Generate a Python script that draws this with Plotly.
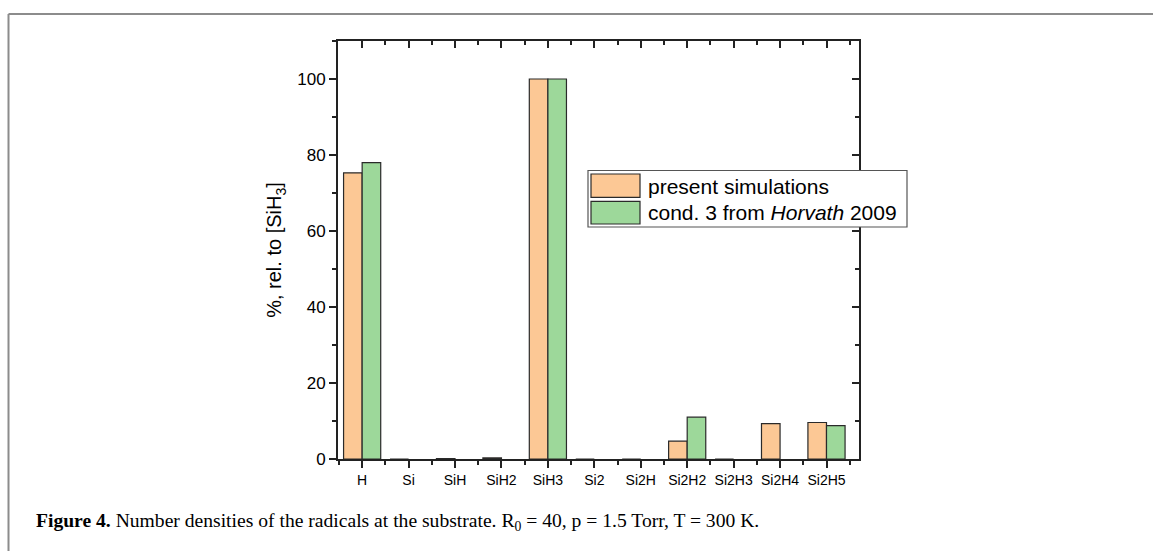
import plotly.graph_objects as go

categories = ["H", "Si", "SiH", "SiH2", "SiH3", "Si2", "Si2H", "Si2H2", "Si2H3", "Si2H4", "Si2H5"]
present_sim = [75.3, 0.0, 0.1, 0.3, 100.0, 0.0, 0.0, 4.7, 0.0, 9.3, 9.6]
horvath_2009 = [78.0, None, None, None, 100.0, None, None, 11.0, None, None, 8.8]
series_names = ["present simulations", "cond. 3 from <i>Horvath</i> 2009"]
y_major = [0, 20, 40, 60, 80, 100]
y_minor = [10, 30, 50, 70, 90, 110]

W, H = 1153, 551
L, R, T, B = 338, 859, 41, 459


def px(x):
    return (x - L) / (R - L)


def py(y):
    return (B - y) / (B - T)


ORANGE = "#FCC895"
GREEN = "#9DD89A"
EDGE = "#2a2a2a"
AX = "#222222"

xpos = list(range(len(categories)))

fig = go.Figure()
fig.add_trace(go.Bar(x=xpos, y=present_sim, name=series_names[0],
                     marker=dict(color=ORANGE, line=dict(color=EDGE, width=1.2)),
                     showlegend=False))
fig.add_trace(go.Bar(x=xpos, y=horvath_2009, name=series_names[1],
                     marker=dict(color=GREEN, line=dict(color=EDGE, width=1.2)),
                     showlegend=False))
fig.add_trace(go.Scatter(x=[None], y=[None], xaxis="x2", yaxis="y2",
                         showlegend=False, hoverinfo="skip"))

xr = [-0.52, 10.7]
yr = [0, 110]
minor_x = [i + 0.5 for i in range(-1, len(categories))]

fig.update_layout(
    width=W, height=H,
    margin=dict(l=L, r=W - R, t=T, b=H - B),
    paper_bgcolor="white", plot_bgcolor="white",
    barmode="group", bargap=0.2, bargroupgap=0.0,
    showlegend=False,
    font=dict(family="Liberation Sans, Arial", color="black"),
    xaxis=dict(range=xr, tickmode="array", tickvals=xpos, ticktext=categories,
               ticks="outside", ticklen=7, tickwidth=1.5, tickcolor=AX,
               showline=True, linecolor=AX, linewidth=1.8, showgrid=False, zeroline=False,
               tickfont=dict(size=14),
               minor=dict(tickvals=minor_x, ticks="outside", ticklen=4, tickwidth=1.5, tickcolor=AX)),
    yaxis=dict(range=yr, tickmode="array", tickvals=y_major,
               ticks="outside", ticklen=7, tickwidth=1.5, tickcolor=AX,
               showline=True, linecolor=AX, linewidth=1.8, showgrid=False, zeroline=False,
               tickfont=dict(size=17),
               title=dict(text="%, rel. to [SiH<sub>3</sub>]", font=dict(size=20), standoff=10),
               minor=dict(tickvals=y_minor, ticks="outside", ticklen=4, tickwidth=1.5, tickcolor=AX)),
    xaxis2=dict(overlaying="x", side="top", range=xr, tickmode="array", tickvals=xpos,
                showticklabels=False, ticks="inside", ticklen=7, tickwidth=1.5, tickcolor=AX,
                showline=True, linecolor=AX, linewidth=1.8, showgrid=False, zeroline=False,
                minor=dict(tickvals=minor_x, ticks="inside", ticklen=4, tickwidth=1.5, tickcolor=AX)),
    yaxis2=dict(overlaying="y", side="right", range=yr, tickmode="array", tickvals=y_major,
                showticklabels=False, ticks="inside", ticklen=7, tickwidth=1.5, tickcolor=AX,
                showline=True, linecolor=AX, linewidth=1.8, showgrid=False, zeroline=False,
                minor=dict(tickvals=y_minor, ticks="inside", ticklen=4, tickwidth=1.5, tickcolor=AX)),
)

shapes = []
# page frame lines (gray)
shapes.append(dict(type="line", xref="paper", yref="paper", x0=px(8.5), x1=px(1160), y0=py(14), y1=py(14),
                   line=dict(color="#8c8c8c", width=2), layer="above"))
shapes.append(dict(type="line", xref="paper", yref="paper", x0=px(8.5), x1=px(8.5), y0=py(14), y1=py(560),
                   line=dict(color="#8c8c8c", width=2), layer="above"))
# legend box
shapes.append(dict(type="rect", xref="paper", yref="paper", x0=px(588), x1=px(907), y0=py(227), y1=py(170.5),
                   fillcolor="white", line=dict(color="#555555", width=1.2), layer="above"))
shapes.append(dict(type="rect", xref="paper", yref="paper", x0=px(591), x1=px(640), y0=py(197.3), y1=py(174),
                   fillcolor=ORANGE, line=dict(color=EDGE, width=1.2), layer="above"))
shapes.append(dict(type="rect", xref="paper", yref="paper", x0=px(591), x1=px(640), y0=py(224), y1=py(201.3),
                   fillcolor=GREEN, line=dict(color=EDGE, width=1.2), layer="above"))
fig.update_layout(shapes=shapes)

annotations = [
    dict(xref="paper", yref="paper", x=px(646), y=py(186), xanchor="left", yanchor="middle",
         text=series_names[0], showarrow=False, font=dict(size=21, color="black")),
    dict(xref="paper", yref="paper", x=px(646), y=py(212.5), xanchor="left", yanchor="middle",
         text=series_names[1], showarrow=False, font=dict(size=21, color="black")),
    dict(xref="paper", yref="paper", x=px(34), y=py(522), xanchor="left", yanchor="middle",
         text="<b>Figure 4.</b> Number densities of the radicals at the substrate. R<sub>0</sub> = 40, p = 1.5 Torr, T = 300 K.",
         showarrow=False, font=dict(size=19.6, family="Liberation Serif, Times New Roman", color="black")),
]
fig.update_layout(annotations=annotations)

fig.write_html("out.html")
